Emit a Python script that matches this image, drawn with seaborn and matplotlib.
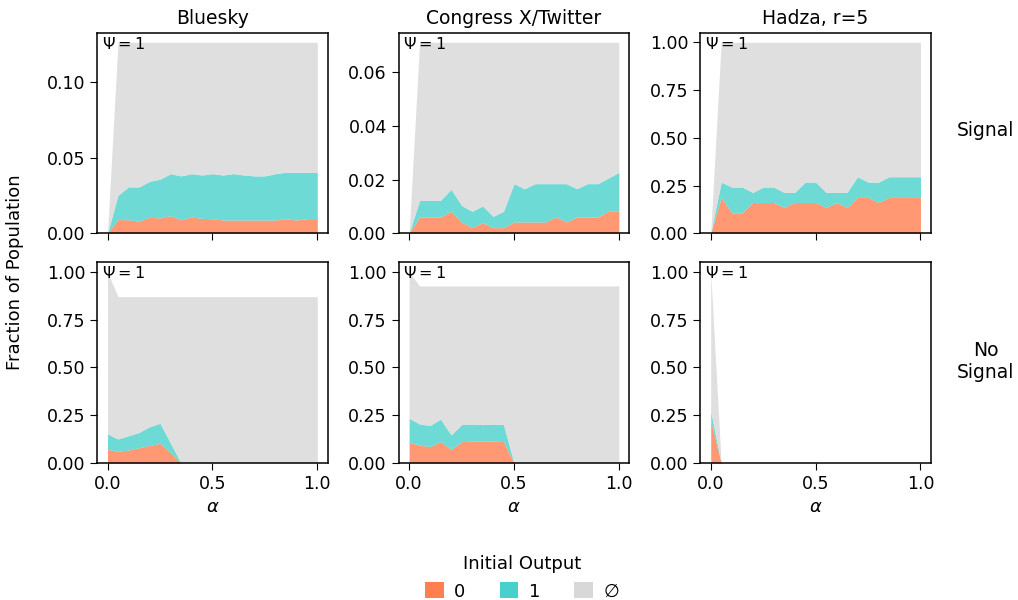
import numpy as np
import matplotlib
matplotlib.use("Agg")
import matplotlib.pyplot as plt
import seaborn as sns
from matplotlib.patches import Patch

# alpha grid (x axis)
alpha = [0.00, 0.05, 0.10, 0.15, 0.20, 0.25, 0.30, 0.35, 0.40, 0.45, 0.50,
         0.55, 0.60, 0.65, 0.70, 0.75, 0.80, 0.85, 0.90, 0.95, 1.00]

columns = ["Bluesky", "Congress X/Twitter", "Hadza, r=5"]
rows = ["Signal", "No\nSignal"]
series_names = ["0", "1", "\u2205"]
colors = ["#FF7F50", "#48D1CC", "#D8D8D8"]

# --- Signal row: fraction of population with initial output 0 / 1 / none ---
bluesky_sig_0 = [0, .0091, .0090, .0080, .0106, .0102, .0117, .0090, .0108, .0099, .0097,
                 .0088, .0088, .0088, .0088, .0088, .0088, .0097, .0088, .0097, .0097]
bluesky_sig_1 = [0, .0161, .0217, .0227, .0238, .0256, .0278, .0290, .0287, .0287, .0298,
                 .0298, .0307, .0298, .0292, .0292, .0307, .0307, .0316, .0307, .0307]
bluesky_sig_none = [0, .1013, .0958, .0958, .0921, .0907, .0870, .0885, .0870, .0879, .0870,
                    .0879, .0870, .0879, .0885, .0885, .0870, .0861, .0861, .0861, .0861]

congress_sig_0 = [0, .0061, .0061, .0061, .0082, .0042, .0021, .0040, .0021, .0021, .0042,
                  .0042, .0042, .0042, .0061, .0042, .0061, .0061, .0061, .0082, .0082]
congress_sig_1 = [0, .0062, .0062, .0062, .0082, .0062, .0061, .0062, .0042, .0061, .0143,
                  .0124, .0143, .0143, .0124, .0143, .0105, .0124, .0124, .0124, .0145]
congress_sig_none = [0, .0589, .0589, .0589, .0548, .0608, .0630, .0610, .0649, .0630, .0527,
                     .0546, .0527, .0527, .0527, .0527, .0546, .0527, .0527, .0506, .0485]

hadza_sig_0 = [0, .188, .107, .107, .161, .161, .161, .135, .161, .161, .161,
               .135, .161, .135, .188, .188, .161, .188, .188, .188, .188]
hadza_sig_1 = [0, .080, .135, .135, .053, .081, .081, .079, .053, .107, .107,
               .079, .053, .079, .108, .080, .107, .108, .108, .108, .108]
hadza_sig_none = [0, .732, .758, .758, .786, .758, .758, .786, .786, .732, .732,
                  .786, .786, .786, .704, .732, .732, .704, .704, .704, .704]

# --- No signal row ---
bluesky_nosig_0 = [.072, .061, .068, .080, .092, .103, .055, 0, 0, 0, 0,
                   0, 0, 0, 0, 0, 0, 0, 0, 0, 0]
bluesky_nosig_1 = [.080, .065, .075, .080, .098, .105, .050, 0, 0, 0, 0,
                   0, 0, 0, 0, 0, 0, 0, 0, 0, 0]
bluesky_nosig_none = [.848, .745, .728, .711, .681, .663, .766, .871, .871, .871, .871,
                      .871, .871, .871, .871, .871, .871, .871, .871, .871, .871]

congress_nosig_0 = [.108, .094, .086, .112, .070, .112, .115, .115, .115, .112, 0,
                    0, 0, 0, 0, 0, 0, 0, 0, 0, 0]
congress_nosig_1 = [.126, .110, .111, .118, .077, .089, .089, .086, .089, .089, 0,
                    0, 0, 0, 0, 0, 0, 0, 0, 0, 0]
congress_nosig_none = [.766, .723, .730, .697, .780, .726, .723, .726, .723, .726, .927,
                       .927, .927, .927, .927, .927, .927, .927, .927, .927, .927]

hadza_nosig_0 = [.22, 0, 0, 0, 0, 0, 0, 0, 0, 0, 0,
                 0, 0, 0, 0, 0, 0, 0, 0, 0, 0]
hadza_nosig_1 = [.05, 0, 0, 0, 0, 0, 0, 0, 0, 0, 0,
                 0, 0, 0, 0, 0, 0, 0, 0, 0, 0]
hadza_nosig_none = [.73, 0, 0, 0, 0, 0, 0, 0, 0, 0, 0,
                    0, 0, 0, 0, 0, 0, 0, 0, 0, 0]

panels = [
    [(bluesky_sig_0, bluesky_sig_1, bluesky_sig_none),
     (congress_sig_0, congress_sig_1, congress_sig_none),
     (hadza_sig_0, hadza_sig_1, hadza_sig_none)],
    [(bluesky_nosig_0, bluesky_nosig_1, bluesky_nosig_none),
     (congress_nosig_0, congress_nosig_1, congress_nosig_none),
     (hadza_nosig_0, hadza_nosig_1, hadza_nosig_none)],
]

# y ticks per panel
yticks = [
    [[0.0, 0.05, 0.10], [0.0, 0.02, 0.04, 0.06], [0.0, 0.25, 0.5, 0.75, 1.0]],
    [[0.0, 0.25, 0.5, 0.75, 1.0]] * 3,
]

sns.set_style("ticks")
plt.rcParams.update({
    "font.family": ["DejaVu Sans"],
    "axes.edgecolor": "black",
    "text.color": "black",
    "axes.labelcolor": "black",
    "xtick.color": "black",
    "ytick.color": "black",
    "xtick.labelsize": 12.5,
    "ytick.labelsize": 12.5,
    "axes.linewidth": 1.1,
    "xtick.major.size": 5,
    "ytick.major.size": 5,
})

fig, axes = plt.subplots(2, 3, figsize=(10.18, 6.0), dpi=100, sharex=True)
fig.subplots_adjust(left=0.0953, right=0.9145, top=0.9455, bottom=0.2283,
                    wspace=0.307, hspace=0.145)

for r in range(2):
    for c in range(3):
        ax = axes[r, c]
        p0, p1, pn = panels[r][c]
        ax.stackplot(alpha, p0, p1, pn, colors=colors, alpha=0.8, linewidth=0)
        ax.set_ylim(bottom=0)
        ax.set_yticks(yticks[r][c])
        ax.text(0.02, 0.985, r"$\Psi=1$", transform=ax.transAxes,
                ha="left", va="top", fontsize=11.5)
        ax.set_xticks([0.0, 0.5, 1.0])
        ax.yaxis.set_major_formatter(matplotlib.ticker.FormatStrFormatter("%.2f"))
        ax.xaxis.set_major_formatter(matplotlib.ticker.FormatStrFormatter("%.1f"))
        if r == 0:
            ax.set_title(columns[c], fontsize=13.5)
        else:
            ax.set_xlabel(r"$\alpha$", fontsize=13)

fig.text(0.968, 0.782, rows[0], ha="center", va="center", fontsize=13.5)
fig.text(0.968, 0.397, rows[1], ha="center", va="center", fontsize=13.5,
         multialignment="center")
fig.text(0.015, 0.547, "Fraction of Population", rotation=90,
         ha="center", va="center", fontsize=13)

handles = [Patch(facecolor=col, edgecolor="none") for col in colors]
fig.legend(handles, series_names, title="Initial Output", loc="lower center",
           bbox_to_anchor=(0.513, -0.028), ncol=3, frameon=False,
           handlelength=1.0, handleheight=1.0, handletextpad=0.6,
           columnspacing=1.9, fontsize=13, title_fontsize=13)

fig.savefig("out.png", dpi=100)
